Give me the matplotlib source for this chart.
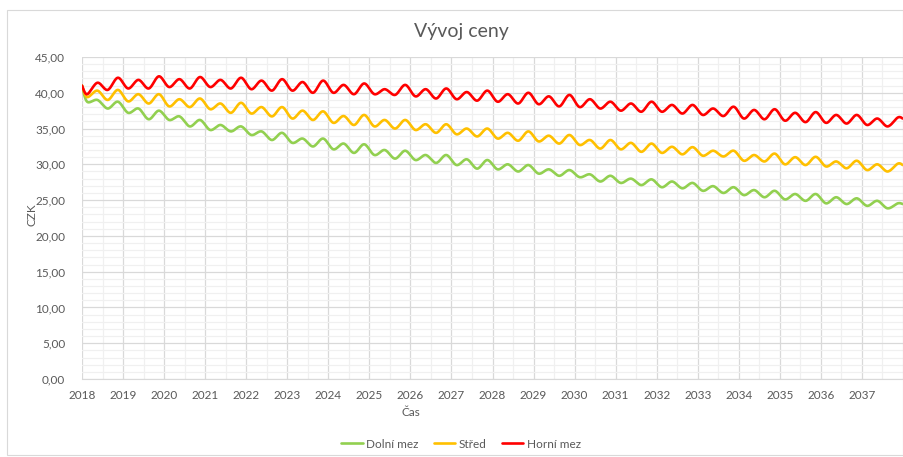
import numpy as np
import matplotlib
matplotlib.use("Agg")
import matplotlib.pyplot as plt
from matplotlib.patches import Rectangle
from matplotlib.ticker import MultipleLocator, FuncFormatter

plt.rcParams['font.family'] = ['Lato', 'DejaVu Sans']

# ---- data ----
start_year = 2018
start_value = 41.0          # all series start here (Jan 2018)
end_year = 2038.0
series_names = ["Dolní mez", "Střed", "Horní mez"]
colors = ["#92D050", "#FFC000", "#FF0000"]

# half-year minima (around Feb / Aug) and maxima (around May / Nov), 2018-2037
dolni_min = [38.75, 37.8, 37.2, 36.3, 36.2, 35.3, 34.8, 34.6, 34.1, 33.4,
             33.0, 32.5, 32.1, 31.6, 31.3, 30.8, 30.6, 30.2, 29.9, 29.4,
             29.3, 29.0, 28.7, 28.4, 28.2, 27.6, 27.4, 27.1, 26.8, 26.65,
             26.3, 26.0, 25.7, 25.4, 25.1, 24.9, 24.55, 24.45, 24.2, 23.85]
dolni_max = [39.0, 38.75, 37.8, 37.5, 36.7, 36.2, 35.5, 35.3, 34.6, 34.4,
             33.6, 33.6, 32.9, 32.8, 32.0, 31.9, 31.3, 31.3, 30.7, 30.6,
             30.0, 29.9, 29.3, 29.2, 28.6, 28.4, 28.0, 27.9, 27.6, 27.4,
             26.95, 26.8, 26.4, 26.3, 25.85, 25.85, 25.4, 25.25, 24.9, 24.55]
stred_min = [39.4, 39.0, 38.8, 38.5, 38.1, 38.0, 37.7, 37.2, 37.1, 36.7,
             36.4, 36.2, 35.8, 35.5, 35.3, 35.0, 34.8, 34.4, 34.2, 33.9,
             33.6, 33.3, 33.2, 32.9, 32.7, 32.2, 32.1, 31.75, 31.6, 31.4,
             31.2, 31.1, 30.5, 30.4, 30.0, 29.9, 29.7, 29.45, 29.2, 29.0]
stred_max = [40.3, 40.4, 39.8, 39.8, 39.1, 39.2, 38.5, 38.6, 38.0, 38.0,
             37.5, 37.4, 36.75, 36.9, 36.2, 36.2, 35.6, 35.6, 35.0, 35.0,
             34.4, 34.6, 34.0, 34.1, 33.4, 33.4, 33.0, 32.9, 32.45, 32.4,
             31.9, 31.9, 31.3, 31.5, 31.0, 31.05, 30.4, 30.5, 30.0, 30.1]
horni_min = [39.8, 40.4, 40.6, 40.6, 40.8, 40.6, 40.8, 40.6, 40.5, 40.3,
             40.3, 40.0, 40.0, 39.8, 39.8, 39.7, 39.5, 39.2, 39.1, 38.9,
             38.75, 38.5, 38.4, 38.1, 38.0, 37.8, 37.5, 37.35, 37.35, 37.1,
             36.9, 36.75, 36.4, 36.3, 36.1, 35.9, 35.8, 35.7, 35.5, 35.3]
horni_max = [41.4, 42.1, 41.8, 42.3, 41.9, 42.2, 41.8, 42.1, 41.7, 41.9,
             41.5, 41.7, 41.1, 41.3, 40.5, 41.1, 40.5, 40.6, 40.1, 40.3,
             39.8, 40.0, 39.5, 39.7, 39.1, 38.75, 38.5, 38.75, 38.3, 38.3,
             37.8, 38.05, 37.6, 37.7, 37.2, 37.3, 36.9, 36.9, 36.4, 36.55]
end_values = [24.45, 29.9, 36.4]

x_ticks = list(range(2018, 2038))
y_max = 45


def build(mins, maxs, end_val):
    n = len(mins)
    half = start_year + 0.5 * np.arange(n)
    xs = np.column_stack([half + 0.125, half + 0.375]).ravel()
    ys = np.column_stack([mins, maxs]).ravel()
    xs = np.concatenate([[start_year], xs, [end_year - 0.005]])
    ys = np.concatenate([[start_value], ys, [end_val]])
    return xs, ys


def smooth(xs, ys, steps=16):
    # Catmull-Rom style smoothing (like a spreadsheet "smoothed line")
    px = np.concatenate([[xs[0]], xs, [xs[-1]]])
    py = np.concatenate([[ys[0]], ys, [ys[-1]]])
    ox, oy = [], []
    t = np.linspace(0, 1, steps, endpoint=False)
    for i in range(1, len(px) - 2):
        x0, x1, x2, x3 = px[i - 1:i + 3]
        y0, y1, y2, y3 = py[i - 1:i + 3]
        mx1, mx2 = (x2 - x0) / 2, (x3 - x1) / 2
        my1, my2 = (y2 - y0) / 2, (y3 - y1) / 2
        h00 = 2 * t**3 - 3 * t**2 + 1
        h10 = t**3 - 2 * t**2 + t
        h01 = -2 * t**3 + 3 * t**2
        h11 = t**3 - t**2
        ox.append(h00 * x1 + h10 * mx1 + h01 * x2 + h11 * mx2)
        oy.append(h00 * y1 + h10 * my1 + h01 * y2 + h11 * my2)
    ox.append([px[-2]])
    oy.append([py[-2]])
    return np.concatenate(ox), np.concatenate(oy)


W, H = 904, 457
fig = plt.figure(figsize=(W / 100, H / 100), dpi=100)
fig.patch.set_facecolor("white")
fig.patches.append(Rectangle((7 / W, 1 - 455 / H), 896 / W, 445 / H,
                             transform=fig.transFigure, fill=False,
                             edgecolor="#D9D9D9", linewidth=0.8))

ax = fig.add_axes([82 / W, 1 - 379 / H, (903 - 82) / W, (379 - 57) / H])
ax.set_xlim(start_year, end_year)
ax.set_ylim(0, y_max)

data = [(dolni_min, dolni_max), (stred_min, stred_max), (horni_min, horni_max)]
for (mn, mx), ev, name, c in zip(data, end_values, series_names, colors):
    xs, ys = build(mn, mx, ev)
    sx, sy = smooth(xs, ys)
    ax.plot(sx, sy, color=c, lw=1.9, label=name, solid_capstyle="round")

ax.set_xticks(x_ticks)
ax.set_xticklabels([str(y) for y in x_ticks])
ax.xaxis.set_minor_locator(MultipleLocator(0.5))
ax.yaxis.set_major_locator(MultipleLocator(5))
ax.yaxis.set_minor_locator(MultipleLocator(1))
ax.yaxis.set_major_formatter(FuncFormatter(lambda v, p: f"{v:.2f}".replace(".", ",")))

ax.grid(which="major", color="#D9D9D9", lw=0.9)
ax.grid(which="minor", color="#F0F0F0", lw=0.9)
ax.set_axisbelow(True)
for s in ["top", "right", "left"]:
    ax.spines[s].set_visible(False)
ax.spines["bottom"].set_color("#D9D9D9")
ax.tick_params(which="both", length=0, colors="#595959", labelsize=8.5)
ax.tick_params(axis="y", pad=12)
ax.tick_params(axis="x", pad=8)

fig.text(461 / W, 1 - 32 / H, "Vývoj ceny", ha="center", va="center",
         fontsize=14, color="#595959")
fig.text(32 / W, 1 - 215 / H, "CZK", ha="center", va="center", rotation=90,
         fontsize=8.5, color="#595959")
fig.text(411 / W, 1 - 412 / H, "Čas", ha="center", va="center",
         fontsize=8.5, color="#595959")

leg = fig.legend(loc="center", bbox_to_anchor=(461 / W, 1 - 444 / H), ncol=3,
                 frameon=False, fontsize=8.5, handlelength=1.8,
                 handletextpad=0.3, columnspacing=1.3)
for t in leg.get_texts():
    t.set_color("#595959")

fig.savefig("out.png", dpi=100)
